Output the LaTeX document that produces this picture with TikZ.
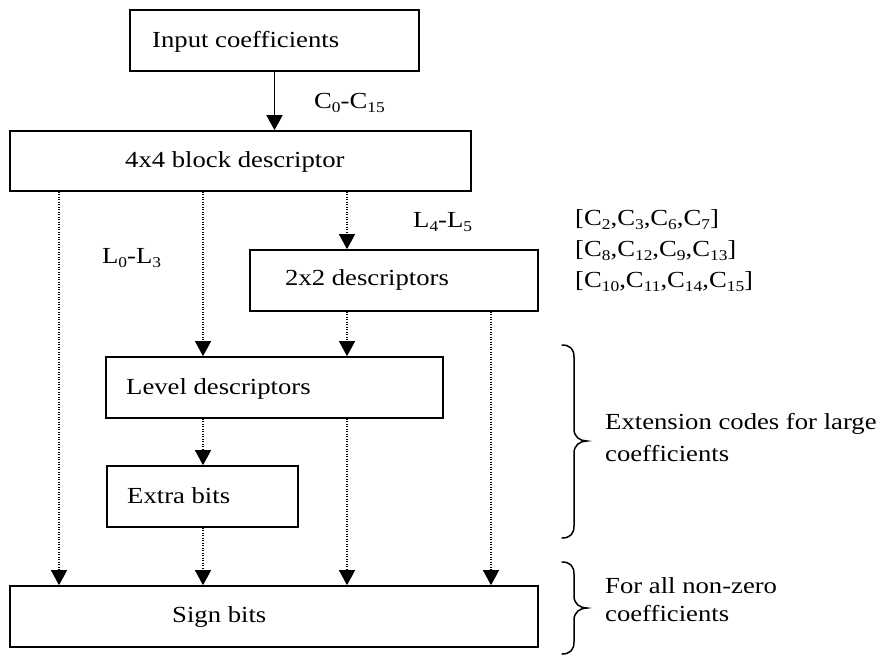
\documentclass[tikz,border=0pt]{standalone}
\usepackage{fontspec}
\setmainfont[FakeStretch=1.16]{Liberation Serif}
\usetikzlibrary{arrows.meta}
% lowered index digits, as in C_0
\newcommand\lowix[1]{\raisebox{-0.2em}{\fontsize{15}{15}\selectfont #1}}
\begin{document}
\begin{tikzpicture}[x=1pt,y=-1pt,
  box/.style={draw, line width=1.7pt, inner sep=0pt, minimum height=61pt},
  txt/.style={inner sep=0pt, anchor=base west, font=\fontsize{23}{30}\selectfont},
  solidarrow/.style={line width=1.7pt, -{Triangle[width=16pt,length=15pt]}},
  dotarrow/.style={line width=1.2pt, dash pattern=on 1pt off 1.5pt,
    -{Triangle[width=16pt,length=15pt]}},
  brace/.style={line width=1.5pt, line cap=round}]
\useasboundingbox (0,0) rectangle (881,657);

% boxes
\node[box, minimum width=289pt] (inp) at (274.5,40.5) {};
\node[box, minimum width=461pt, minimum height=60pt] (blk) at (240.5,161) {};
\node[box, minimum width=288pt] (two) at (394,280.5) {};
\node[box, minimum width=337pt] (lev) at (274.5,387.5) {};
\node[box, minimum width=191pt] (ext) at (202.5,496.5) {};
\node[box, minimum width=528pt] (sgn) at (274,616.5) {};

% box texts
\node[txt] (inpT) at (152,47) {Input coefficients};
\node[txt] (blkT) at (125,167) {4x4 block descriptor};
\node[txt] (twoT) at (285,285) {2x2 descriptors};
\node[txt] (levT) at (126,394) {Level descriptors};
\node[txt] (extT) at (127,503) {Extra bits};
\node[txt] (sgnT) at (172,622) {Sign bits};

% connector labels
\node[txt] (cLab) at (314,108) {C\lowix{0}-C\lowix{15}};
\node[txt] (hiLab) at (413,227) {L\lowix{4}-L\lowix{5}};
\node[txt] (loLab) at (102,263) {L\lowix{0}-L\lowix{3}};
\node[txt] (grpA) at (575,225) {[C\lowix{2},C\lowix{3},C\lowix{6},C\lowix{7}]};
\node[txt] (grpB) at (575,256) {[C\lowix{8},C\lowix{12},C\lowix{9},C\lowix{13}]};
\node[txt] (grpC) at (575,287) {[C\lowix{10},C\lowix{11},C\lowix{14},C\lowix{15}]};

% column positions of the dotted connectors
\coordinate (colA) at (59,0);
\coordinate (colB) at (203,0);
\coordinate (colC) at (347,0);
\coordinate (colD) at (491,0);

% connectors
\draw[solidarrow] (inp.south) -- (inp.south |- blk.north);
\draw[dotarrow] (blk.south -| colA) -- (sgn.north -| colA);
\draw[dotarrow] (blk.south -| colB) -- (lev.north -| colB);
\draw[dotarrow] (blk.south -| colC) -- (two.north -| colC);
\draw[dotarrow] (two.south -| colC) -- (lev.north -| colC);
\draw[dotarrow] (two.south -| colD) -- (sgn.north -| colD);
\draw[dotarrow] (lev.south -| colB) -- (ext.north -| colB);
\draw[dotarrow] (lev.south -| colC) -- (sgn.north -| colC);
\draw[dotarrow] (ext.south -| colB) -- (sgn.north -| colB);

% braces
\draw[brace] (562,345) .. controls (570,345) and (574,349) .. (574,357)
  -- (574,429) .. controls (574,437) and (580,441) .. (587,441)
  .. controls (580,441) and (574,445) .. (574,453)
  -- (574,526) .. controls (574,534) and (570,538) .. (562,538);
\draw[brace] (562,562) .. controls (570,562) and (574,566) .. (574,574)
  -- (574,596) .. controls (574,604) and (580,608) .. (587,608)
  .. controls (580,608) and (574,612) .. (574,620)
  -- (574,642) .. controls (574,650) and (570,654) .. (562,654);

% brace texts
\node[txt] (extA) at (605,429) {Extension codes for large};
\node[txt] (extB) at (605,461) {coefficients};
\node[txt] (allA) at (605,593) {For all non-zero};
\node[txt] (allB) at (605,621) {coefficients};
\end{tikzpicture}
\end{document}
